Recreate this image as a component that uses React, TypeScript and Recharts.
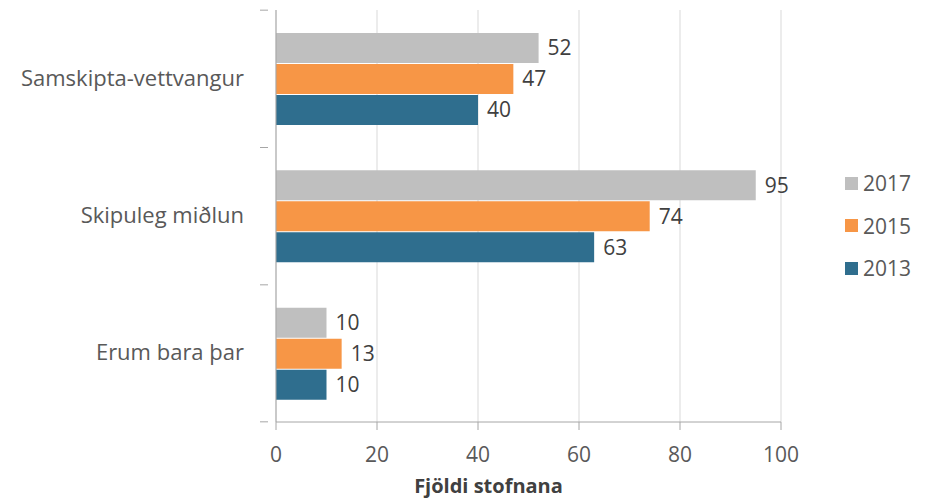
import React from "react";
import {
  BarChart,
  Bar,
  XAxis,
  YAxis,
  CartesianGrid,
  LabelList,
} from "recharts";

const categories = ["Samskipta-vettvangur", "Skipuleg miðlun", "Erum bara þar"];
const values2017 = [52, 95, 10];
const values2015 = [47, 74, 13];
const values2013 = [40, 63, 10];
const xTicks = [0, 20, 40, 60, 80, 100];

const series = [
  { key: "2017", color: "#BFBFBF" },
  { key: "2015", color: "#F79646" },
  { key: "2013", color: "#2F6E8E" },
];

const data = categories.map((name, i) => ({
  name,
  "2017": values2017[i],
  "2015": values2015[i],
  "2013": values2013[i],
}));

const FONT = "'Open Sans', sans-serif";

const CategoryTick = (props: any) => {
  const { x, y, payload } = props;
  const half = 68.5;
  return (
    <g>
      <text
        x={x - 24}
        y={y}
        dy={7}
        textAnchor="end"
        fill="#595959"
        fontSize={22}
        fontFamily={FONT}
      >
        {payload.value}
      </text>
      <line x1={x - 8} x2={x} y1={y - half} y2={y - half} stroke="#A6A6A6" />
      {payload.index === categories.length - 1 && (
        <line x1={x - 8} x2={x} y1={y + half} y2={y + half} stroke="#A6A6A6" />
      )}
    </g>
  );
};

const LegendBox = () => (
  <div
    style={{
      position: "absolute",
      left: 845,
      top: 162,
      fontFamily: FONT,
      fontSize: 21,
      color: "#595959",
    }}
  >
    {series.map((s) => (
      <div
        key={s.key}
        style={{ display: "flex", alignItems: "center", height: 42.5 }}
      >
        <span
          style={{
            width: 13,
            height: 13,
            background: s.color,
            display: "inline-block",
            marginRight: 5,
          }}
        />
        {s.key}
      </div>
    ))}
  </div>
);

export default function App() {
  return (
    <div style={{ position: "absolute", left: 0, top: 0, background: "#fff" }}>
      <BarChart
        width={934}
        height={502}
        data={data}
        layout="vertical"
        margin={{ top: 10, right: 153, bottom: 0, left: 0 }}
        barCategoryGap={23}
        barGap={1}
      >
        <CartesianGrid horizontal={false} stroke="#D9D9D9" />
        <XAxis
          type="number"
          domain={[0, 100]}
          ticks={xTicks}
          height={80}
          axisLine={{ stroke: "#A6A6A6" }}
          tickLine={{ stroke: "#A6A6A6" }}
          tickSize={8}
          tick={{ fill: "#595959", fontSize: 21, fontFamily: FONT }}
          tickMargin={17}
          label={{
            value: "Fjöldi stofnana",
            position: "insideBottom",
            offset: 9,
            dx: -40,
            fill: "#404040",
            fontSize: 20,
            fontWeight: "bold",
            fontFamily: FONT,
          }}
        />
        <YAxis
          type="category"
          dataKey="name"
          width={276}
          axisLine={{ stroke: "#A6A6A6" }}
          tickLine={false}
          tick={<CategoryTick />}
        />
        {series.map((s) => (
          <Bar
            key={s.key}
            dataKey={s.key}
            fill={s.color}
            isAnimationActive={false}
          >
            <LabelList
              dataKey={s.key}
              position="right"
              offset={9}
              fill="#404040"
              fontSize={21}
              fontFamily={FONT}
            />
          </Bar>
        ))}
      </BarChart>
      <LegendBox />
    </div>
  );
}
